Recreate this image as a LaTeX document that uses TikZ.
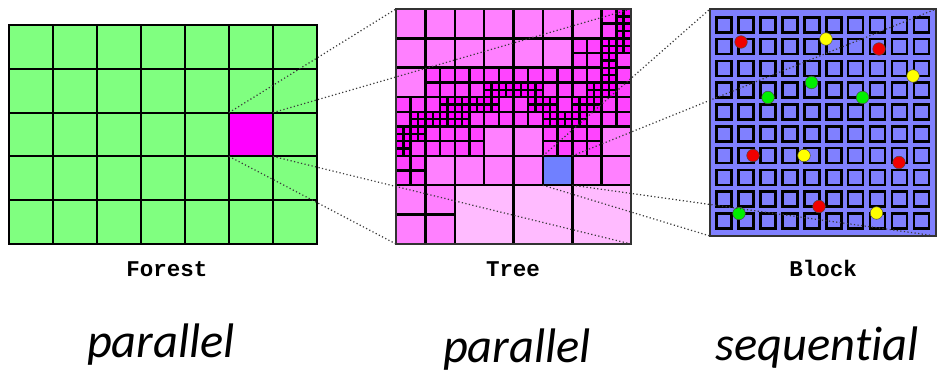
\documentclass[tikz,border=0pt]{standalone}
\usepackage{fontspec}
\setmainfont{Liberation Serif}
\newfontfamily\labfont{Liberation Mono}
\newfontfamily\capfont{Carlito}[Ligatures=NoCommon]
\definecolor{forestg}{HTML}{80FF80}
\definecolor{mag}{HTML}{FF00FF}
\definecolor{lfour}{HTML}{FFBBFF}
\definecolor{leight}{HTML}{FF80FF}
\definecolor{lsixteen}{HTML}{FF44FF}
\definecolor{blockb}{HTML}{8080FF}
\definecolor{bluecell}{HTML}{7080FF}
\definecolor{dotred}{HTML}{F00000}
\definecolor{dotyel}{HTML}{FFFF00}
\definecolor{dotgrn}{HTML}{00F000}
\definecolor{zoomgray}{HTML}{3A3A3A}
\begin{document}
\begin{tikzpicture}[x=1pt,y=-1pt,
  fcell/.style={fill=forestg,draw=black,line width=1.9pt},
  tfour/.style={fill=lfour,draw=black,line width=2.5pt},
  teight/.style={fill=leight,draw=black,line width=2.5pt},
  tsixteen/.style={fill=lsixteen,draw=black,line width=2.5pt},
  tsmall/.style={fill=mag,draw=black,line width=2.4pt},
  bsq/.style={fill=blockb,draw=black,line width=2.6pt},
  dotc/.style={draw=black!70,line width=0.5pt},
  zoomline/.style={draw=zoomgray,line width=1.2pt,dash pattern=on 1.2pt off 2.4pt},
  lab/.style={font=\labfont\bfseries\fontsize{22.5}{22.5}\selectfont,anchor=base,inner sep=0pt},
  captext/.style={font=\capfont\itshape\fontsize{48.5}{48.5}\selectfont,anchor=base,inner sep=0pt}
]
\useasboundingbox (0,0) rectangle (943,374);
\fill[white] (0,0) rectangle (943,374);

% ---------------- Forest ----------------
\foreach \c in {0,...,6} \foreach \r in {0,...,4}
  \draw[fcell] ({9+\c*44},{25+\r*43.8}) rectangle +(44,43.8);
\draw[fcell,fill=mag] (229,112.6) rectangle +(44,43.8);
\coordinate (mTL) at (229,112.6);
\coordinate (mTR) at (273,112.6);
\coordinate (mBL) at (229,156.4);
\coordinate (mBR) at (273,156.4);

% ---------------- Tree ----------------
\foreach \c/\r in {0/0,1/0,2/0,3/0,4/0,5/0,6/0,
                   0/1,1/1,2/1,3/1,4/1,5/1,
                   0/2,
                   3/4,4/4,7/4,
                   1/5,2/5,3/5,4/5,6/5,7/5,
                   0/6,1/6,0/7,1/7}
  \draw[teight] ({396+\c*29.375},{9+\r*29.375}) rectangle +(29.375,29.375);
\draw[teight,fill=bluecell] ({396+5*29.375},{9+5*29.375}) rectangle +(29.375,29.375);
\foreach \c/\r in {2/6,4/6,6/6}
  \draw[tfour] ({396+\c*29.375},{9+\r*29.375}) rectangle +(58.75,58.75);
\foreach \i/\j in {14/0,14/1,
                   12/2,13/2,12/3,13/3,15/3,
                   2/4,3/4,2/5,3/5,4/4,5/4,4/5,5/5,6/4,7/4,8/4,9/4,10/4,11/4,10/5,11/5,12/4,13/4,12/5,15/4,15/5,
                   0/6,1/6,0/7,2/6,5/7,7/6,6/7,7/7,8/6,8/7,9/7,11/6,13/7,14/6,15/6,14/7,15/7,
                   1/9,2/8,3/8,2/9,3/9,4/8,5/8,4/9,5/9,10/8,11/8,10/9,11/9,12/8,13/8,12/9,13/9,
                   0/10,1/10,0/11,1/11}
  \draw[tsixteen] ({396+\i*14.6875},{9+\j*14.6875}) rectangle +(14.6875,14.6875);
\foreach \i/\j in {15/0,15/1,14/2,15/2,14/3,
                   6/5,7/5,8/5,9/5,13/5,14/4,14/5,
                   1/7,3/6,2/7,3/7,4/6,5/6,4/7,6/6,9/6,10/6,10/7,11/7,12/6,13/6,12/7,
                   0/8,1/8,0/9}
  \foreach \a in {0,1} \foreach \b in {0,1}
    \draw[tsmall] ({396+\i*14.6875+\a*7.34375},{9+\j*14.6875+\b*7.34375}) rectangle +(7.34375,7.34375);
\draw[black!80,line width=1.8pt] (396,9) rectangle (631,244);
\coordinate (tTL) at (396,9);
\coordinate (tTR) at (631,9);
\coordinate (tBL) at (396,244);
\coordinate (tBR) at (631,244);
\coordinate (bTL) at ({396+5*29.375},{9+5*29.375});
\coordinate (bTR) at ({396+6*29.375},{9+5*29.375});
\coordinate (bBL) at ({396+5*29.375},{9+6*29.375});
\coordinate (bBR) at ({396+6*29.375},{9+6*29.375});

% ---------------- Block ----------------
\draw[fill=blockb,draw=black!80,line width=1.6pt] (710,9) rectangle (936,236);
\foreach \c in {0,...,9} \foreach \r in {0,...,9}
  \draw[bsq] ({716.7+\c*21.9},{17.3+\r*21.8}) rectangle +(15,15);
\coordinate (kTL) at (710,9);
\coordinate (kTR) at (936,9);
\coordinate (kBL) at (710,236);
\coordinate (kBR) at (936,236);
\foreach \x/\y/\col in {741/42/dotred,826/39/dotyel,879/49/dotred,913/76/dotyel,
                        811.5/82.5/dotgrn,768/97.5/dotgrn,862.5/97.5/dotgrn,
                        753/155.5/dotred,804/155.5/dotyel,899/162.5/dotred,
                        819/206.5/dotred,876.5/213/dotyel,739/213.5/dotgrn}
  \draw[dotc,fill=\col] (\x,\y) circle (6.3);

% ---------------- zoom lines ----------------
\draw[zoomline] (mTL) -- (tTL);
\draw[zoomline] (mTR) -- (tTR);
\draw[zoomline] (mBL) -- (tBL);
\draw[zoomline] (mBR) -- (tBR);
\draw[zoomline] (bTL) -- (kTL);
\draw[zoomline] (bTR) -- (kTR);
\draw[zoomline] (bBL) -- (kBL);
\draw[zoomline] (bBR) -- (kBR);

% ---------------- labels ----------------
\node[lab] (lForest) at (167,277) {Forest};
\node[lab] (lTree) at (513,277) {Tree};
\node[lab] (lBlock) at (823,277) {Block};
\node[captext] (cA) at (161,357) {parallel};
\node[captext] (cB) at (517,362) {parallel};
\node[captext] (cC) at (817,360) {sequential};
\end{tikzpicture}
\end{document}
